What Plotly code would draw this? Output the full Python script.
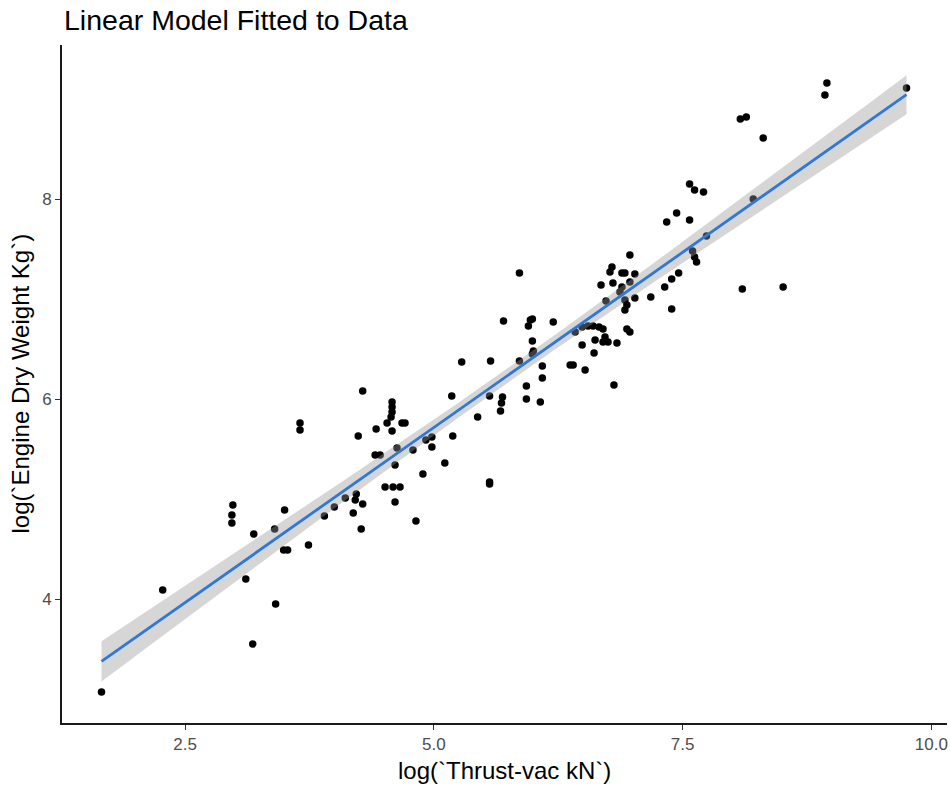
import numpy as np
import plotly.graph_objects as go

# log thrust (vacuum, kN) of each engine
log_thrust = [
    1.66, 2.275, 2.98, 2.97, 2.97, 3.19, 3.11, 3.18, 3.41, 3.40,
    3.50, 3.49, 3.53, 3.74, 3.655, 3.655, 3.90, 4.00,
    4.11, 4.19, 4.21, 4.22, 4.24, 4.27, 4.285, 4.285, 4.42, 4.41,
    4.46, 4.51, 4.53, 4.58, 4.58, 4.58, 4.57, 4.58, 4.59, 4.61,
    4.61, 4.63, 4.66, 4.68, 4.71, 4.79, 4.82, 4.89, 4.92, 4.98, 4.98,
    5.11, 5.18, 5.19, 5.28, 5.44, 5.56, 5.57, 5.56, 5.56, 5.69,
    5.68, 5.67, 5.70, 5.86, 5.86, 5.93, 5.93, 5.95, 5.97, 5.99,
    5.99, 6.00, 5.99,
    6.07, 6.09, 6.09, 6.20, 6.37, 6.40, 6.42, 6.49, 6.49, 6.52,
    6.55, 6.60, 6.66, 6.70, 6.61, 6.62, 6.70, 6.75, 6.72, 6.84,
    6.81, 6.68, 6.73, 6.77, 6.79, 6.80, 6.89, 6.92, 6.97, 7.02,
    6.97, 6.89, 6.87, 6.92, 6.94, 6.92, 7.02, 6.94, 6.97,
    7.18, 7.32, 7.39, 7.46, 7.39, 7.34, 7.44, 7.57, 7.57, 7.62,
    7.71, 7.60, 7.62, 7.64, 7.74, 8.21, 8.10, 8.51, 8.08, 8.14,
    8.31, 8.93, 8.95, 9.75,
]

# log dry weight (kg) of each engine
log_weight = [
    3.07, 4.09, 4.94, 4.84, 4.76, 4.65, 4.20, 3.55, 3.95, 4.70,
    4.89, 4.49, 4.49, 4.54, 5.76, 5.69, 4.83, 4.92,
    5.01, 4.86, 4.99, 5.05, 5.63, 4.70, 4.95, 6.08, 5.70, 5.44,
    5.44, 5.12, 5.76, 5.97, 5.92, 5.87, 5.82, 5.68, 5.12, 5.34,
    4.97, 5.51, 5.12, 5.76, 5.76, 5.49, 4.78, 5.25, 5.59, 5.62, 5.52,
    5.36, 6.03, 5.63, 6.37, 5.82, 6.03, 6.38, 5.17, 5.15, 6.02,
    5.96, 5.88, 6.78, 7.26, 6.38, 6.13, 6.00, 6.73, 6.79, 6.80,
    6.58, 6.48, 6.45,
    5.97, 6.33, 6.21, 6.77, 6.34, 6.34, 6.67, 6.54, 6.72, 6.29,
    6.73, 6.73, 6.72, 6.70, 6.46, 6.59, 6.57, 6.57, 6.62, 6.56,
    6.14, 7.14, 6.98, 7.27, 7.32, 7.16, 7.26, 7.26, 7.44, 7.25,
    7.17, 7.12, 7.07, 6.99, 6.94, 6.89, 7.01, 6.70, 6.67,
    7.02, 7.12, 7.20, 7.26, 6.90, 7.77, 7.86, 7.79, 8.15, 8.09,
    8.07, 7.48, 7.42, 7.37, 7.63, 8.00, 7.10, 7.12, 8.80, 8.82,
    8.61, 9.04, 9.16, 9.11,
]

x_ticks = [2.5, 5.0, 7.5, 10.0]
x_tick_labels = ["2.5", "5.0", "7.5", "10.0"]
y_ticks = [4, 6, 8]
y_tick_labels = ["4", "6", "8"]

# two-sided 95% Student t quantile for n - 2 degrees of freedom
T_975 = 1.978

# ordinary least squares fit with a 95% confidence band
x = np.asarray(log_thrust, dtype=float)
y = np.asarray(log_weight, dtype=float)
n = len(x)
slope, intercept = np.polyfit(x, y, 1)
resid = y - (intercept + slope * x)
sigma = np.sqrt(np.sum(resid ** 2) / (n - 2))
sxx = np.sum((x - x.mean()) ** 2)
grid = np.linspace(x.min(), x.max(), 80)
fit = intercept + slope * grid
se = sigma * np.sqrt(1.0 / n + (grid - x.mean()) ** 2 / sxx)
upper = fit + T_975 * se
lower = fit - T_975 * se

FONT = "Liberation Sans, Arial, sans-serif"

fig = go.Figure()

fig.add_trace(go.Scatter(
    x=log_thrust, y=log_weight, mode="markers",
    marker=dict(color="black", size=7.5, line=dict(width=0)),
    showlegend=False, hoverinfo="x+y",
))

fig.add_trace(go.Scatter(
    x=np.concatenate([grid, grid[::-1]]),
    y=np.concatenate([upper, lower[::-1]]),
    mode="lines", fill="toself",
    fillcolor="rgba(153,153,153,0.4)", line=dict(width=0),
    showlegend=False, hoverinfo="skip",
))

fig.add_trace(go.Scatter(
    x=grid, y=fit, mode="lines",
    line=dict(color="#2f78d8", width=2.8),
    showlegend=False, hoverinfo="skip",
))

axis_common = dict(
    showgrid=False, zeroline=False, showline=True,
    linecolor="#1a1a1a", linewidth=1.8,
    ticks="outside", ticklen=5, tickwidth=1.2, tickcolor="#333333",
    tickfont=dict(family=FONT, size=17, color="#4d4d4d"),
)

fig.update_layout(
    width=950, height=787,
    margin=dict(l=62, r=3, t=45, b=64),
    paper_bgcolor="white", plot_bgcolor="white",
    xaxis=dict(range=[1.263, 10.157], tickvals=x_ticks, ticktext=x_tick_labels,
               **axis_common),
    yaxis=dict(range=[2.76, 9.54], tickvals=y_ticks, ticktext=y_tick_labels,
               **axis_common),
    annotations=[
        dict(text="Linear Model Fitted to Data", xref="paper", yref="paper",
             x=0, y=1, xanchor="left", yanchor="bottom", yshift=7,
             showarrow=False,
             font=dict(family=FONT, size=28.5, color="black")),
        dict(text="log(`Thrust-vac kN`)", xref="paper", yref="paper",
             x=0.5, y=0, xanchor="center", yanchor="top", yshift=-32,
             showarrow=False,
             font=dict(family=FONT, size=24, color="black")),
        dict(text="log(`Engine Dry Weight Kg`)", xref="paper", yref="paper",
             x=0, y=0.5, xanchor="right", yanchor="middle", xshift=-27,
             textangle=-90, showarrow=False,
             font=dict(family=FONT, size=24, color="black")),
    ],
)

fig.write_html("out.html")
